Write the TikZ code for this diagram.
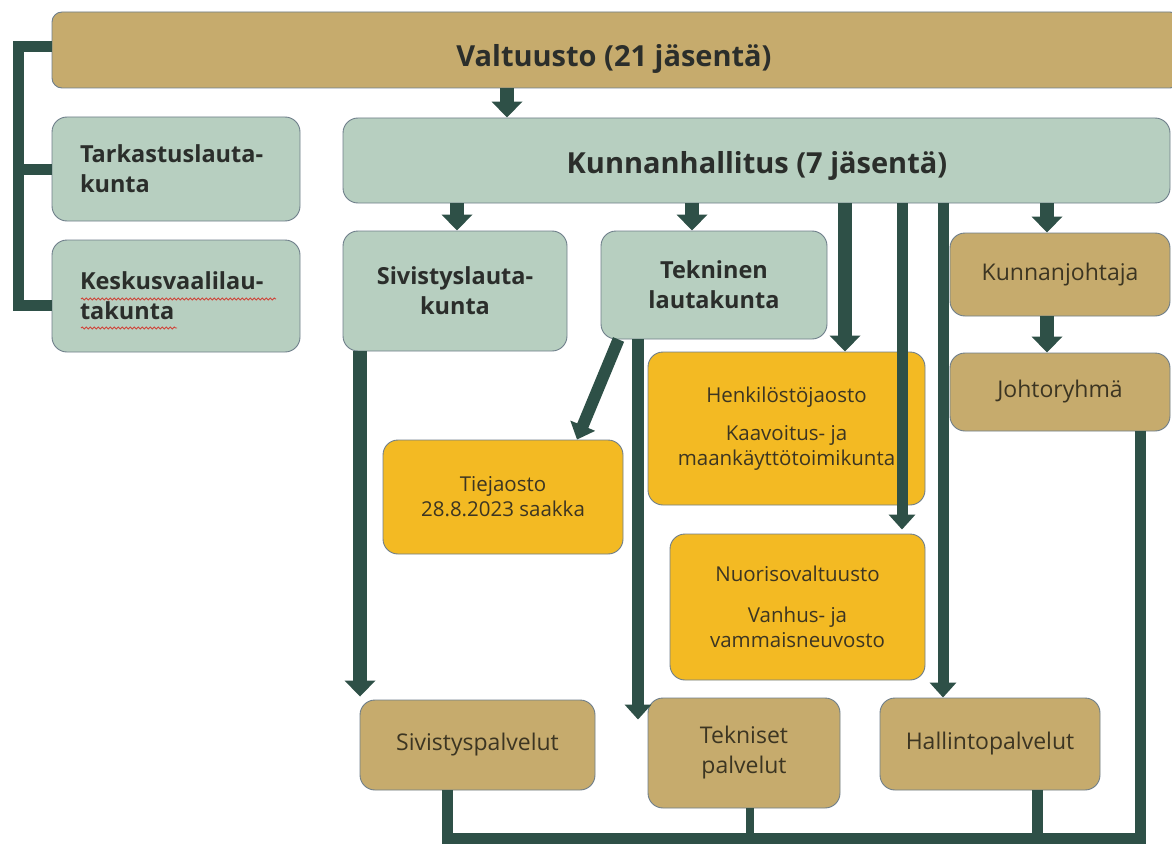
\documentclass[tikz,border=0pt]{standalone}
\usepackage{fontspec}
\setmainfont{Open Sans}
\usetikzlibrary{arrows.meta,decorations.pathmorphing}
\definecolor{tanc}{HTML}{C6AB6D}
\definecolor{grnc}{HTML}{B7CFC0}
\definecolor{yelc}{HTML}{F3BA23}
\definecolor{dkc}{HTML}{2E5047}
\definecolor{bordc}{HTML}{6E7E8A}
\definecolor{txtd}{HTML}{2B2E2B}
\definecolor{txtb}{HTML}{3C3522}
\definecolor{wavyc}{HTML}{D0453A}
\tikzset{
  box/.style={draw=bordc, line width=0.9pt, rounded corners=15pt, inner sep=0pt, align=center},
  gbox/.style={box, fill=grnc, text=txtd, font=\bfseries\fontsize{23.5}{30}\selectfont},
  tbox/.style={box, fill=tanc, text=txtb, font=\fontsize{23}{30}\selectfont},
  ybox/.style={box, fill=yelc, text=txtb, font=\fontsize{20.5}{25}\selectfont},
  titletext/.style={text=txtd, font=\bfseries\fontsize{29}{32}\selectfont, inner sep=0pt},
  bigarrow/.style={draw=dkc, line width=14pt, -{Triangle[width=30pt,length=16pt]}},
  midarrow/.style={draw=dkc, line width=11pt, -{Triangle[width=26pt,length=15pt]}},
  busline/.style={draw=dkc, line width=11pt, line join=miter},
  thinbus/.style={draw=dkc, line width=8pt},
  wavy/.style={draw=wavyc, line width=0.9pt, decorate, decoration={snake, segment length=4pt, amplitude=1pt}}
}
\begin{document}
\begin{tikzpicture}[x=1pt,y=-1pt]
\useasboundingbox (0,0) rectangle (1172,848);
\begin{scope}
\clip (0,0) rectangle (1172,848);
% boxes
\node[box, fill=tanc, rounded corners=10pt, minimum width=1128pt, minimum height=76pt] (V) at (616,50) {};
\node[titletext] (Vt) at (614,59) {Valtuusto (21 jäsentä)};
\node[box, fill=grnc, minimum width=827pt, minimum height=85pt] (KH) at (756.5,160.5) {};
\node[titletext] (KHt) at (757,166) {Kunnanhallitus (7 jäsentä)};

\node[gbox, minimum width=248pt, minimum height=104pt, text width=192pt, align=left] (TL) at (176,169) {Tarkastuslauta-\\kunta};
\node[gbox, minimum width=248pt, minimum height=112pt, text width=192pt, align=left] (KV) at (176,296) {Keskusvaalilau-\\takunta};

\node[gbox, minimum width=224pt, minimum height=120pt] (SL) at (455,291) {Sivistyslauta-\\kunta};
\node[gbox, minimum width=226pt, minimum height=108pt] (TK) at (714,285) {Tekninen\\lautakunta};

\node[tbox, minimum width=220pt, minimum height=83pt] (KJ) at (1060,274.5) {Kunnanjohtaja};
\node[tbox, minimum width=220pt, minimum height=78pt] (JR) at (1060,392) {Johtoryhmä};

\node[ybox, minimum width=277pt, minimum height=153pt] (HJ) at (786.5,428.5) {Henkilöstöjaosto\\[13pt]Kaavoitus- ja\\maankäyttötoimikunta};
\node[ybox, minimum width=255pt, minimum height=146pt] (NV) at (797.5,607) {Nuorisovaltuusto\\[16pt]Vanhus- ja\\vammaisneuvosto};
\node[ybox, minimum width=240pt, minimum height=114pt] (TJ) at (503,497) {Tiejaosto\\28.8.2023 saakka};

\node[tbox, minimum width=235pt, minimum height=90pt] (SP) at (477.5,745) {Sivistyspalvelut};
\node[tbox, minimum width=192pt, minimum height=110pt] (TP) at (744,753) {Tekniset\\palvelut};
\node[tbox, minimum width=220pt, minimum height=92pt] (HP) at (990,744) {Hallintopalvelut};

% spell-check underline
\draw[wavy] (81,299) -- (276,299);
\draw[wavy] (81,328) -- (177,328);

% column coordinates
\coordinate (c507) at (507,0);
\coordinate (c457) at (457,0);
\coordinate (c692) at (692,0);
\coordinate (c845) at (845,0);
\coordinate (c903) at (902,0);
\coordinate (c943) at (943,0);
\coordinate (c1047) at (1047,0);
\coordinate (c360) at (360,0);
\coordinate (c637) at (638,0);
\coordinate (c577) at (577,0);

% left bracket
\coordinate (Lt) at (18,47);
\coordinate (Lb) at (18,305);
\draw[busline] (V.west |- Lt) -- (Lt) -- (Lb) -- (KV.west |- Lb);
\draw[busline] (Lt |- TL.west) -- (TL.west);

% arrows
\draw[bigarrow] (V.south -| c507) -- (KH.north -| c507);
\draw[bigarrow] (KH.south -| c457) -- (SL.north -| c457);
\draw[bigarrow] (KH.south -| c692) -- (TK.north -| c692);
\draw[bigarrow] (KH.south -| c1047) -- (KJ.north -| c1047);
\draw[bigarrow] (KJ.south -| c1047) -- (JR.north -| c1047);
\draw[bigarrow] (KH.south -| c845) -- (HJ.north -| c845);
\draw[midarrow] (KH.south -| c903) -- ([yshift=4pt]NV.north -| c903);
\draw[midarrow] (KH.south -| c943) -- (HP.north -| c943);
\draw[bigarrow] (SL.south -| c360) -- ([yshift=3pt]SP.north -| c360);
\draw[midarrow, line width=12pt] (TK.south -| c637) -- ([yshift=-22pt]TP.north -| c637);
\draw[midarrow, line width=12pt] ([xshift=18pt]TK.south west) -- (TJ.north -| c577);

% bottom bus
\coordinate (b1) at (447,838);
\coordinate (b2) at (750,838);
\coordinate (b3) at (1037,838);
\coordinate (b4) at (1140,838);
\draw[busline] (SP.south -| b1) -- (b1) -- (b4) -- (JR.south -| b4);
\draw[thinbus] (TP.south -| b2) -- (b2);
\draw[busline] (HP.south -| b3) -- (b3);
\end{scope}
\end{tikzpicture}
\end{document}
